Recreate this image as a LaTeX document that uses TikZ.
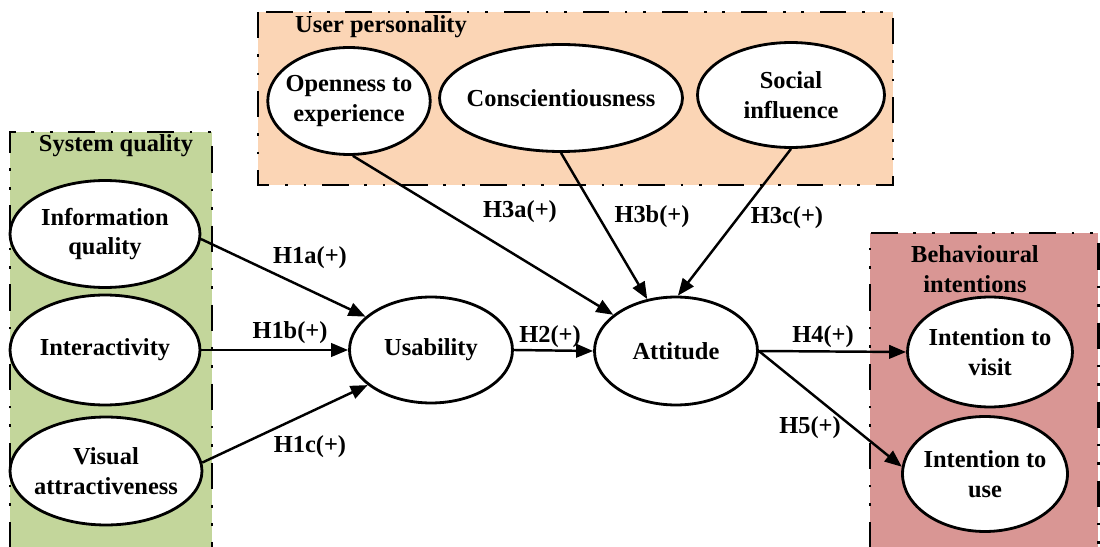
\documentclass[tikz,border=0pt]{standalone}
\usepackage{fontspec}
\setmainfont{Liberation Serif}
\usetikzlibrary{shapes.geometric,arrows.meta}
\definecolor{sysgreen}{HTML}{C3D69B}
\definecolor{userorange}{HTML}{FBD5B5}
\definecolor{behavred}{HTML}{D99694}
\begin{document}
\begin{tikzpicture}[x=0.02cm,y=-0.02cm,
  every node/.style={font=\fontsize{13.9}{17}\selectfont\bfseries},
  % the ellipse size is set by minimum width/height only
  construct/.style={ellipse, draw, line width=1.6pt, fill=white, inner xsep=-2cm, inner ysep=-1cm, align=center},
  groupbox/.style={line width=1.7pt, dash pattern=on 15pt off 9pt on 1.5pt off 9pt on 1.5pt off 9pt},
  link/.style={line width=1.4pt, -{Triangle[length=0.34cm,width=0.27cm]}},
  hyp/.style={inner sep=0pt}
]
\useasboundingbox (0,0) rectangle (1100,547);

% construct groups
\fill[sysgreen] (10,132) rectangle (212,548);
\draw[groupbox] (10,548) -- (10,132) -- (212,132) -- (212,548);
\fill[userorange] (258,12) rectangle (893,185);
\draw[groupbox] (258,12) rectangle (893,185);
\fill[behavred] (870,233) rectangle (1098,548);
\draw[groupbox] (870,548) -- (870,233) -- (1098,233) -- (1098,548);

\node[hyp] (gsys) at (116,146) {System quality};
\node[hyp] (guser) at (381,27) {User personality};
\node[hyp, align=center] (gbeh) at (975,269) {Behavioural\\intentions};

% system quality constructs
\node[construct, minimum width=3.8cm, minimum height=2.14cm] (iq) at (105,234) {Information\\quality};
\node[construct, minimum width=3.8cm, minimum height=2.2cm] (ia) at (105,350) {Interactivity};
\node[construct, minimum width=3.84cm, minimum height=2.16cm] (va) at (106,471) {Visual\\attractiveness};

% user personality constructs
\node[construct, minimum width=3.25cm, minimum height=2.14cm] (op) at (349,101) {Openness to\\experience};
\node[construct, minimum width=4.86cm, minimum height=2.14cm] (cs) at (561,98) {Conscientiousness};
\node[construct, minimum width=3.74cm, minimum height=2.1cm] (si) at (791,95) {Social\\influence};

% mediators
\node[construct, minimum width=3.26cm, minimum height=2.12cm] (us) at (431,350) {Usability};
\node[construct, minimum width=3.26cm, minimum height=2.16cm] (at) at (676,351) {Attitude};

% behavioural intentions
\node[construct, minimum width=3.3cm, minimum height=2.2cm] (iv) at (990,352) {Intention to\\visit};
\node[construct, minimum width=3.3cm, minimum height=2.3cm] (iu) at (985,474) {Intention to\\use};

% hypothesised paths
\draw[link] (iq.-3) -- (us.153);
\draw[link] (ia.east) -- (us.west);
\draw[link] (va.5) -- (us.209);
\draw[link] (us.east) -- (at.west);
\draw[link] (op.-86) -- (at.150);
\draw[link] (cs.south) -- (at.119);
\draw[link] (si.south) -- (at.88);
\draw[link] (at.east) -- (iv.west);
\draw[link] (at.east) -- (iu.175);

% path labels
\node[hyp] (h1a) at (310,258) {H1a(+)};
\node[hyp] (h1b) at (290,333) {H1b(+)};
\node[hyp] (h1c) at (310,447) {H1c(+)};
\node[hyp] (h2) at (550,337) {H2(+)};
\node[hyp] (h3a) at (520,212) {H3a(+)};
\node[hyp] (h3b) at (652,217) {H3b(+)};
\node[hyp] (h3c) at (787,218) {H3c(+)};
\node[hyp] (h4) at (823,337) {H4(+)};
\node[hyp] (h5) at (810,428) {H5(+)};
\end{tikzpicture}
\end{document}
